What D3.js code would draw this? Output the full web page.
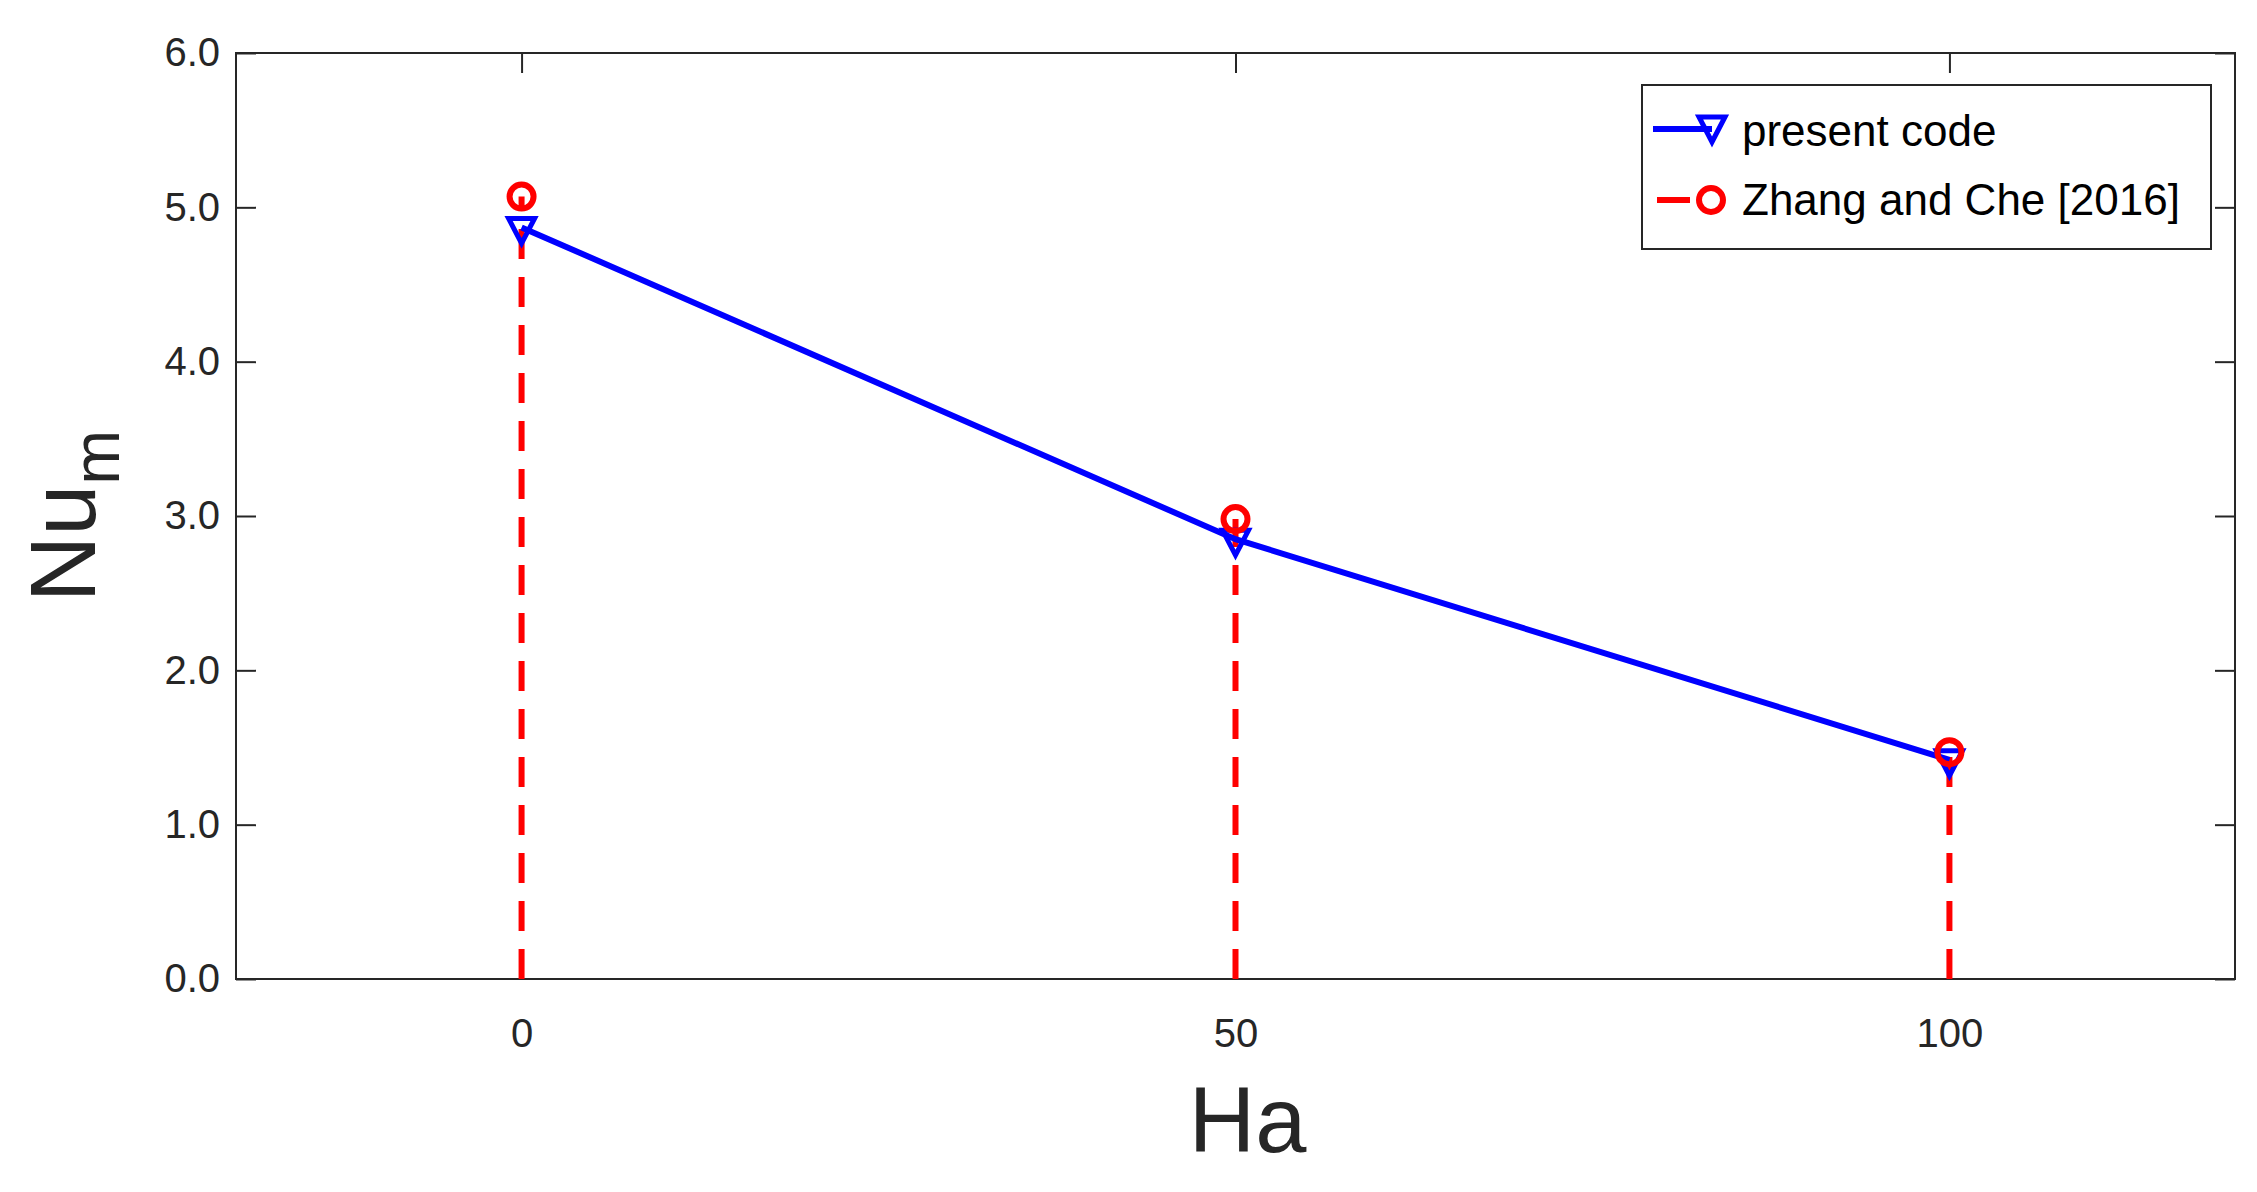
<!DOCTYPE html>
<html lang="en">
<head>
<meta charset="UTF-8">
<script src="https://d3js.org/d3.v7.min.js"></script>
<style>
  body { margin: 0; background: #fff; font-family: "Liberation Sans", Arial, sans-serif; }
</style>
</head>
<body>
<svg width="2257" height="1192"></svg>
<script>
// data
const ha = [0, 50, 100];
const presentCode = [4.87, 2.85, 1.42];
const zhangChe = [5.07, 2.98, 1.47];
const xTicks = [0, 50, 100];
const yTicks = [0, 1, 2, 3, 4, 5, 6];

const mLeft = 236, mRight = 2235, mTop = 53, mBottom = 979;
const svg = d3.select("svg");

const x = d3.scaleLinear().domain([-20, 120]).range([mLeft, mRight]);
const y = d3.scaleLinear().domain([0, 6]).range([mBottom, mTop]);

// axes with inward ticks
const axisStyle = g => {
  g.select(".domain").remove();
  g.selectAll("line").attr("stroke", "#262626").attr("stroke-width", 2);
  g.selectAll("text").attr("fill", "#262626").style("font-size", "40px")
    .style("font-family", "Liberation Sans, Arial, sans-serif");
};
svg.append("g").attr("transform", `translate(0,${mBottom})`)
  .call(d3.axisBottom(x).tickValues(xTicks).tickSizeInner(-20).tickPadding(40))
  .call(axisStyle);
svg.append("g").attr("transform", `translate(0,${mTop})`)
  .call(d3.axisTop(x).tickValues(xTicks).tickSizeInner(-20).tickFormat(""))
  .call(axisStyle);
svg.append("g").attr("transform", `translate(${mLeft},0)`)
  .call(d3.axisLeft(y).tickValues(yTicks).tickSizeInner(-20).tickPadding(16))
  .call(axisStyle);
svg.append("g").attr("transform", `translate(${mRight},0)`)
  .call(d3.axisRight(y).tickValues(yTicks).tickSizeInner(-20).tickFormat(""))
  .call(axisStyle);

svg.append("rect").attr("x", mLeft).attr("y", mTop)
  .attr("width", mRight - mLeft).attr("height", mBottom - mTop)
  .attr("fill", "none").attr("stroke", "#262626").attr("stroke-width", 2);

// red stems
svg.selectAll(".stem").data(ha).enter().append("line")
  .attr("x1", d => x(d)).attr("x2", d => x(d))
  .attr("y1", y(0)).attr("y2", (d, i) => y(zhangChe[i]))
  .attr("stroke", "red").attr("stroke-width", 6).attr("stroke-dasharray", "30,18");

// blue line
svg.append("path")
  .datum(ha.map((d, i) => [d, presentCode[i]]))
  .attr("d", d3.line().x(d => x(d[0])).y(d => y(d[1])))
  .attr("fill", "none").attr("stroke", "blue").attr("stroke-width", 6);

const tri = "M-13,-9 L13,-9 L0,16 Z";
svg.selectAll(".tri").data(ha).enter().append("path")
  .attr("transform", (d, i) => `translate(${x(d)},${y(presentCode[i])})`)
  .attr("d", tri).attr("fill", "none").attr("stroke", "blue").attr("stroke-width", 5);

svg.selectAll(".circ").data(ha).enter().append("circle")
  .attr("cx", d => x(d)).attr("cy", (d, i) => y(zhangChe[i]))
  .attr("r", 12).attr("fill", "none").attr("stroke", "red").attr("stroke-width", 6);

// legend
const lg = svg.append("g");
lg.append("rect").attr("x", 1642).attr("y", 85).attr("width", 569).attr("height", 164)
  .attr("fill", "#fff").attr("stroke", "#262626").attr("stroke-width", 2);
lg.append("line").attr("x1", 1653).attr("x2", 1712).attr("y1", 129).attr("y2", 129)
  .attr("stroke", "blue").attr("stroke-width", 6);
lg.append("path").attr("transform", "translate(1712,126)").attr("d", tri)
  .attr("fill", "none").attr("stroke", "blue").attr("stroke-width", 5);
lg.append("line").attr("x1", 1657).attr("x2", 1690).attr("y1", 200).attr("y2", 200)
  .attr("stroke", "red").attr("stroke-width", 6);
lg.append("circle").attr("cx", 1711).attr("cy", 200).attr("r", 12)
  .attr("fill", "none").attr("stroke", "red").attr("stroke-width", 6);
lg.append("text").attr("x", 1742).attr("y", 131).attr("dy", "0.35em")
  .style("font-size", "44px").text("present code");
lg.append("text").attr("x", 1742).attr("y", 200).attr("dy", "0.35em")
  .style("font-size", "44px").text("Zhang and Che [2016]");

// axis labels
svg.append("text").attr("x", x(50) + 12).attr("y", 1152).attr("text-anchor", "middle")
  .attr("fill", "#262626").style("font-size", "92px").text("Ha");
const yl = svg.append("text").attr("transform", `translate(95,${y(3)}) rotate(-90)`)
  .attr("text-anchor", "middle").attr("fill", "#262626").style("font-size", "92px");
yl.append("tspan").text("Nu");
yl.append("tspan").attr("dy", 24).style("font-size", "66px").text("m");
</script>
</body>
</html>
